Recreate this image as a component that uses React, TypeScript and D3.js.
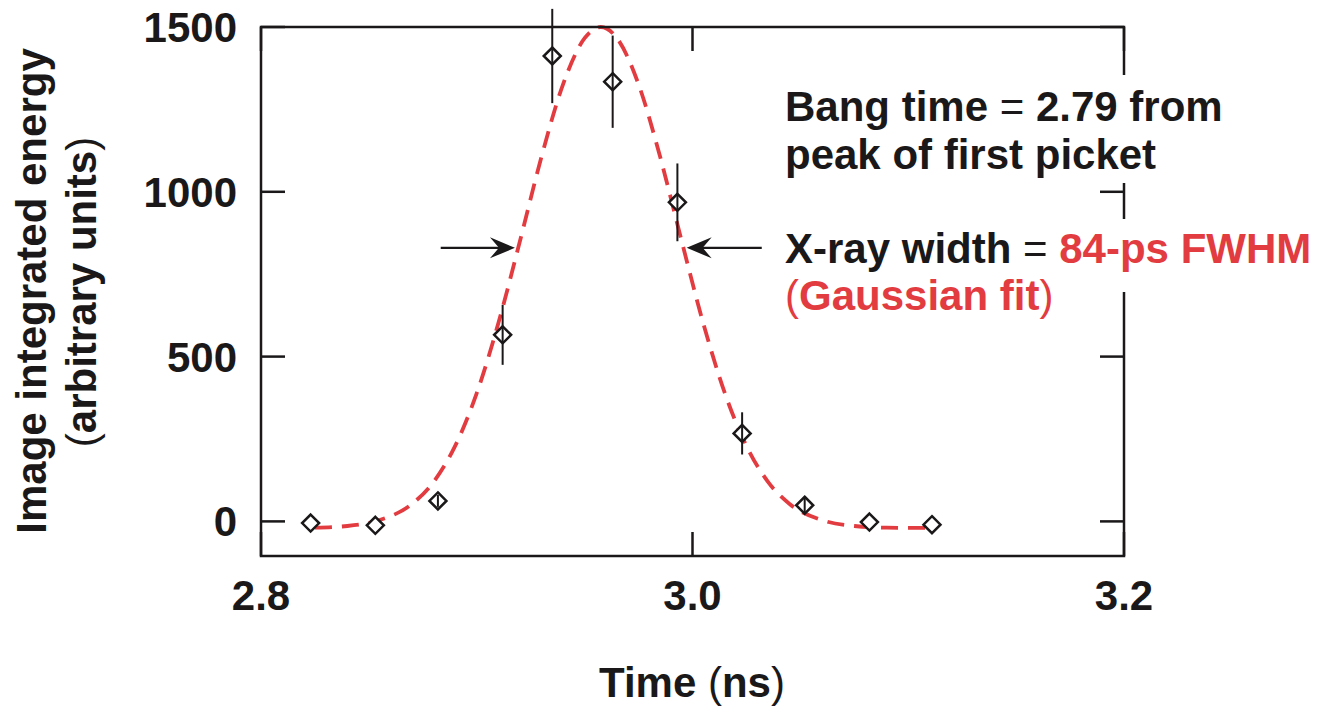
import React, { Component } from 'react';
import * as d3 from 'd3';

// measured points
const times = [2.823, 2.853, 2.882, 2.912, 2.935, 2.963, 2.993, 3.023, 3.052, 3.082, 3.111];
const energy = [-5, -12, 62, 566, 1412, 1334, 968, 267, 49, -2, -10];
const errors = [0, 0, 18, 91, 143, 140, 118, 64, 24, 0, 0];

// gaussian fit curve
const fitTime = [2.825, 2.84, 2.855, 2.87, 2.88, 2.89, 2.9, 2.91, 2.92, 2.93, 2.94, 2.95, 2.9575,
  2.965, 2.975, 2.985, 2.995, 3.005, 3.015, 3.025, 3.035, 3.045, 3.06, 3.075, 3.09, 3.11];
const fitEnergy = [-19, -14, 4, 53, 120, 229, 389, 601, 850, 1106, 1326, 1466, 1500,
  1466, 1326, 1106, 850, 601, 389, 229, 120, 53, 4, -14, -19, -20];

const xTicks = [2.8, 3.0, 3.2];
const yTicks = [0, 500, 1000, 1500];

// half-max arrows (time, energy)
const arrowLevel = 830;
const arrowLeft = [2.8833, 2.9177];
const arrowRight = [3.0321, 2.9973];

const RED = '#e23b40';
const INK = '#1a1818';
const FONT = '"Liberation Sans", Arial, Helvetica, sans-serif';

class App extends Component {
  chartRef: React.RefObject<HTMLDivElement>;
  constructor(props: any) {
    super(props);
    this.chartRef = React.createRef();
  }

  componentDidMount() {
    this.drawChart();
  }
  componentDidUpdate() {
    this.drawChart();
  }

  drawChart() {
    const width = 1319;
    const height = 707;
    const left = 261, right = 1124, top = 27, bottom = 556;

    d3.select(this.chartRef.current).select('svg').remove();

    const svg = d3
      .select(this.chartRef.current)
      .append('svg')
      .attr('width', width)
      .attr('height', height)
      .style('position', 'absolute')
      .style('left', 0)
      .style('top', 0)
      .style('font-family', FONT);

    svg.append('rect').attr('width', width).attr('height', height).attr('fill', '#fff');

    const x = d3.scaleLinear().domain([2.8, 3.2]).range([left, right]);
    const y = d3.scaleLinear().domain([-105, 1500]).range([bottom, top]);

    // fit curve
    const line = d3
      .line<number>()
      .x((d, i) => x(fitTime[i]))
      .y((d) => y(d))
      .curve(d3.curveMonotoneX);

    svg
      .append('path')
      .datum(fitEnergy)
      .attr('d', line)
      .attr('fill', 'none')
      .attr('stroke', RED)
      .attr('stroke-width', 3.8)
      .attr('stroke-dasharray', '17,10');

    // frame
    svg
      .append('rect')
      .attr('x', left)
      .attr('y', top)
      .attr('width', right - left)
      .attr('height', bottom - top)
      .attr('fill', 'none')
      .attr('stroke', INK)
      .attr('stroke-width', 2.5);

    const tickLen = 24;
    const g = svg.append('g').attr('stroke', INK).attr('stroke-width', 2.5);
    yTicks.forEach((t) => {
      g.append('line').attr('x1', left).attr('x2', left + tickLen).attr('y1', y(t)).attr('y2', y(t));
      g.append('line').attr('x1', right).attr('x2', right - tickLen).attr('y1', y(t)).attr('y2', y(t));
    });
    xTicks.forEach((t) => {
      g.append('line').attr('x1', x(t)).attr('x2', x(t)).attr('y1', bottom).attr('y2', bottom - tickLen);
      g.append('line').attr('x1', x(t)).attr('x2', x(t)).attr('y1', top).attr('y2', top + tickLen);
    });

    // tick labels
    svg
      .selectAll('.ylab')
      .data(yTicks)
      .enter()
      .append('text')
      .attr('x', left - 24)
      .attr('y', (d) => y(d) + 15)
      .attr('text-anchor', 'end')
      .style('font-size', '42px')
      .style('font-weight', 'bold')
      .attr('fill', INK)
      .text((d) => d);

    svg
      .selectAll('.xlab')
      .data(xTicks)
      .enter()
      .append('text')
      .attr('x', (d) => x(d))
      .attr('y', 610)
      .attr('text-anchor', 'middle')
      .style('font-size', '42px')
      .style('font-weight', 'bold')
      .attr('fill', INK)
      .text((d) => d3.format('.1f')(d));

    // axis titles
    const xt = svg
      .append('text')
      .attr('x', 692)
      .attr('y', 697)
      .attr('text-anchor', 'middle')
      .style('font-size', '42px')
      .style('font-weight', 'bold')
      .attr('fill', INK);
    xt.append('tspan').text('Time ');
    xt.append('tspan').style('font-weight', 'normal').text('(');
    xt.append('tspan').text('ns');
    xt.append('tspan').style('font-weight', 'normal').text(')');

    svg
      .append('text')
      .attr('transform', 'translate(46,291) rotate(-90)')
      .attr('text-anchor', 'middle')
      .style('font-size', '42px')
      .style('font-weight', 'bold')
      .attr('fill', INK)
      .text('Image integrated energy');

    const yt2 = svg
      .append('text')
      .attr('transform', 'translate(96,292) rotate(-90)')
      .attr('text-anchor', 'middle')
      .style('font-size', '42px')
      .style('font-weight', 'bold')
      .attr('fill', INK);
    yt2.append('tspan').style('font-weight', 'normal').text('(');
    yt2.append('tspan').text('arbitrary units');
    yt2.append('tspan').style('font-weight', 'normal').text(')');

    // white boxes behind annotations (break the right frame)
    svg.append('rect').attr('x', 780).attr('y', 75).attr('width', 460).attr('height', 108).attr('fill', '#fff');
    svg.append('rect').attr('x', 780).attr('y', 219).attr('width', 539).attr('height', 73).attr('fill', '#fff');

    const ann = svg
      .append('g')
      .style('font-size', '42px')
      .style('font-weight', 'bold')
      .attr('fill', INK);

    const a1 = ann.append('text').attr('x', 785).attr('y', 121);
    a1.append('tspan').text('Bang time ');
    a1.append('tspan').style('font-weight', 'normal').text('=');
    a1.append('tspan').text(' 2.79 from');
    ann.append('text').attr('x', 785).attr('y', 169).text('peak of first picket');

    const a2 = ann.append('text').attr('x', 785).attr('y', 263);
    a2.append('tspan').text('X-ray width ');
    a2.append('tspan').style('font-weight', 'normal').text('=');
    a2.append('tspan').text(' ');
    a2.append('tspan').attr('fill', RED).text('84-ps FWHM');
    const a3 = ann.append('text').attr('x', 785).attr('y', 310).attr('fill', RED);
    a3.append('tspan').style('font-weight', 'normal').text('(');
    a3.append('tspan').text('Gaussian fit');
    a3.append('tspan').style('font-weight', 'normal').text(')');

    // arrows
    const drawArrow = (x0: number, x1: number, yy: number) => {
      const dir = x1 > x0 ? 1 : -1;
      svg
        .append('line')
        .attr('x1', x0)
        .attr('x2', x1 - dir * 12)
        .attr('y1', yy)
        .attr('y2', yy)
        .attr('stroke', INK)
        .attr('stroke-width', 2.3);
      svg
        .append('path')
        .attr(
          'd',
          `M${x1},${yy} L${x1 - dir * 25},${yy - 10.5} L${x1 - dir * 16},${yy} L${x1 - dir * 25},${yy + 10.5} Z`
        )
        .attr('fill', INK);
    };
    drawArrow(x(arrowLeft[0]), x(arrowLeft[1]), y(arrowLevel));
    drawArrow(x(arrowRight[0]), x(arrowRight[1]), y(arrowLevel));

    // data points
    const r = 8.5;
    svg
      .selectAll('.pt')
      .data(energy)
      .enter()
      .append('path')
      .attr('d', (d, i) => {
        const cx = x(times[i]);
        const cy = y(d);
        return `M${cx},${cy - r} L${cx + r},${cy} L${cx},${cy + r} L${cx - r},${cy} Z`;
      })
      .attr('fill', '#fff')
      .attr('stroke', INK)
      .attr('stroke-width', 2.5);

    svg
      .selectAll('.err')
      .data(energy)
      .enter()
      .append('line')
      .attr('x1', (d, i) => x(times[i]))
      .attr('x2', (d, i) => x(times[i]))
      .attr('y1', (d, i) => y(d + errors[i]))
      .attr('y2', (d, i) => y(d - errors[i]))
      .attr('stroke', INK)
      .attr('stroke-width', 2);
  }

  render() {
    return (
      <div>
        <div ref={this.chartRef}></div>
      </div>
    );
  }
}

export default App;
